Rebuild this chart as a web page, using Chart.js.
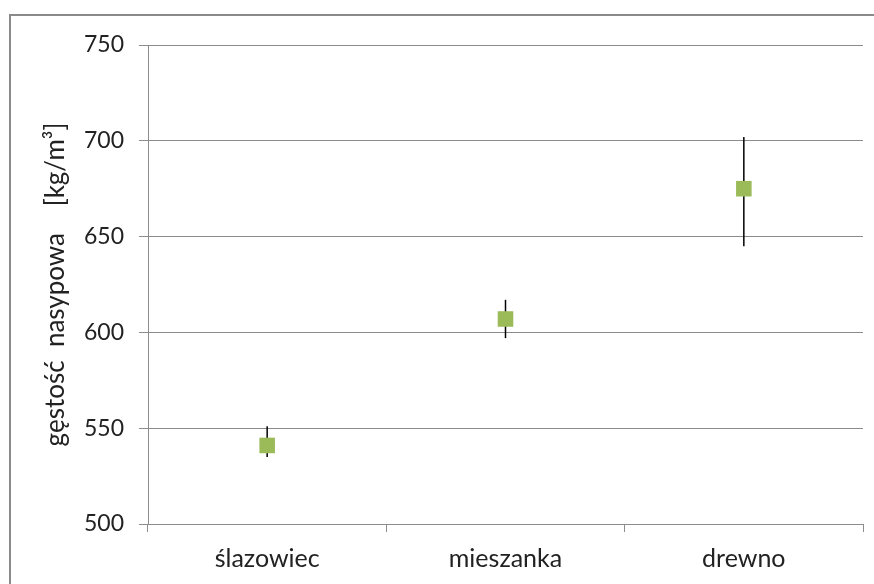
<!DOCTYPE html>
<html>
<head>
<meta charset="utf-8">
<script src="https://cdn.jsdelivr.net/npm/chart.js@4.4.1/dist/chart.umd.min.js"></script>
<style>
  html, body { margin: 0; padding: 0; background: #fff; }
  #wrap { position: relative; width: 874px; height: 584px; overflow: hidden; }
  #frame {
    position: absolute; left: 9px; top: 14px; width: 900px; height: 600px;
    border-top: 2px solid #8a8a8a; border-left: 2px solid #8a8a8a;
  }
  canvas { position: absolute; left: 0; top: 0; }
</style>
</head>
<body>
<div id="wrap">
  <div id="frame"></div>
  <canvas id="c" width="874" height="584"></canvas>
</div>
<script>
// Bulk density of the three fuel samples, mean with spread
const categories = ['ślazowiec', 'mieszanka', 'drewno'];
const meanDensity = [541, 607, 675];
const upperDensity = [551, 617, 702];
const lowerDensity = [535, 597, 645];
const yTicks = [500, 550, 600, 650, 700, 750];

const FONT = 'Lato, "Open Sans", sans-serif';
const GRID = '#8c8c8c';

// vertical whiskers drawn behind the square markers
const errorBars = {
  id: 'errorBars',
  beforeDatasetsDraw(chart) {
    const { ctx, scales: { x, y } } = chart;
    ctx.save();
    ctx.strokeStyle = '#000';
    ctx.lineWidth = 1.5;
    categories.forEach((c, i) => {
      const px = x.getPixelForValue(i);
      ctx.beginPath();
      ctx.moveTo(px, y.getPixelForValue(upperDensity[i]));
      ctx.lineTo(px, y.getPixelForValue(lowerDensity[i]));
      ctx.stroke();
    });
    ctx.restore();
  }
};

new Chart(document.getElementById('c'), {
  type: 'line',
  data: {
    labels: categories,
    datasets: [{
      data: meanDensity,
      showLine: false,
      pointStyle: 'rect',
      pointRadius: 11,
      pointHoverRadius: 11,
      pointBackgroundColor: '#9bbb59',
      pointBorderColor: '#9bbb59',
      pointBorderWidth: 0
    }]
  },
  options: {
    responsive: false,
    animation: false,
    events: [],
    layout: { padding: { left: 0, top: 45, right: 9, bottom: 0 } },
    plugins: { legend: { display: false }, tooltip: { enabled: false } },
    scales: {
      x: {
        offset: true,
        grid: { offset: true, drawOnChartArea: false, drawTicks: true, tickLength: 8, color: GRID },
        border: { color: GRID, width: 1 },
        ticks: { color: '#222', padding: 12, font: { family: FONT, size: 25 } },
        afterFit(s) { s.height = 60; }
      },
      y: {
        min: 500, max: 750,
        afterBuildTicks(s) { s.ticks = yTicks.map(v => ({ value: v })); },
        grid: { color: GRID, tickLength: 9 },
        border: { color: GRID, width: 1 },
        ticks: { color: '#222', padding: 15, font: { family: FONT, size: 23 } },
        title: {
          display: true,
          text: 'gęstość  nasypowa    [kg/m³]',
          color: '#222',
          font: { family: FONT, size: 26 },
          padding: { top: 40, bottom: 0 }
        },
        afterFit(s) { s.width = 148; }
      }
    }
  },
  plugins: [errorBars]
});
</script>
</body>
</html>
